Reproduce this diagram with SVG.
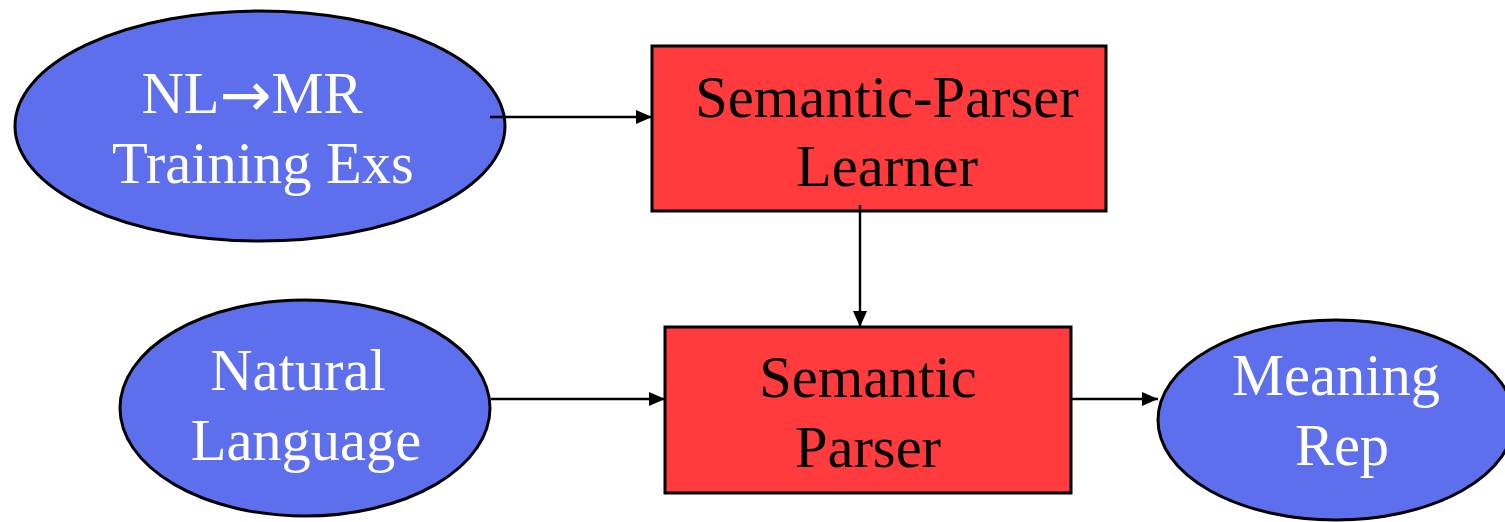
<svg xmlns="http://www.w3.org/2000/svg" width="1505" height="522" viewBox="0 0 1505 522">
  <style>
    .data { fill: #5E6FEE; stroke: #000; stroke-width: 3; }
    .proc { fill: #FF3B3D; stroke: #000; stroke-width: 3; }
    .lbl { font-family: "Liberation Serif", "Times New Roman", serif; font-size: 58.5px; text-anchor: middle; }
    .sym { font-family: "DejaVu Sans", sans-serif; font-size: 62px; }
    .light { fill: #fff; }
    .dark { fill: #000; }
    .conn { stroke: #000; stroke-width: 2.4; fill: none; marker-end: url(#head); }
  </style>
  <defs>
    <marker id="head" viewBox="0 0 16 14" refX="16" refY="7" markerWidth="16" markerHeight="14" markerUnits="userSpaceOnUse" orient="auto">
      <path d="M0,0 L16,7 L0,14 Z" fill="#000"/>
    </marker>
  </defs>

  <g id="training-examples">
    <ellipse class="data" cx="260" cy="126" rx="245" ry="115"/>
    <text class="lbl light" x="252" y="113">NL<tspan class="sym" dy="3">→</tspan><tspan dy="-3">MR</tspan></text>
    <text class="lbl light" x="263" y="183">Training Exs</text>
  </g>

  <g id="parser-learner">
    <rect class="proc" x="652" y="46" width="454" height="165"/>
    <text class="lbl dark" x="887" y="117">Semantic-Parser</text>
    <text class="lbl dark" x="887" y="186">Learner</text>
  </g>

  <g id="natural-language">
    <ellipse class="data" cx="305" cy="408" rx="185" ry="108"/>
    <text class="lbl light" x="298" y="390">Natural</text>
    <text class="lbl light" x="306" y="460">Language</text>
  </g>

  <g id="semantic-parser">
    <rect class="proc" x="665" y="327" width="406" height="166"/>
    <text class="lbl dark" x="868" y="397">Semantic</text>
    <text class="lbl dark" x="868" y="467">Parser</text>
  </g>

  <g id="meaning-rep">
    <ellipse class="data" cx="1336" cy="420" rx="178" ry="100"/>
    <text class="lbl light" x="1336" y="395">Meaning</text>
    <text class="lbl light" x="1342" y="465">Rep</text>
  </g>

  <g id="connectors">
    <line class="conn" x1="490" y1="117" x2="652" y2="117"/>
    <line class="conn" x1="860" y1="205" x2="860" y2="327"/>
    <line class="conn" x1="491" y1="399" x2="665" y2="399"/>
    <line class="conn" x1="1071" y1="399" x2="1158" y2="399"/>
  </g>
</svg>
